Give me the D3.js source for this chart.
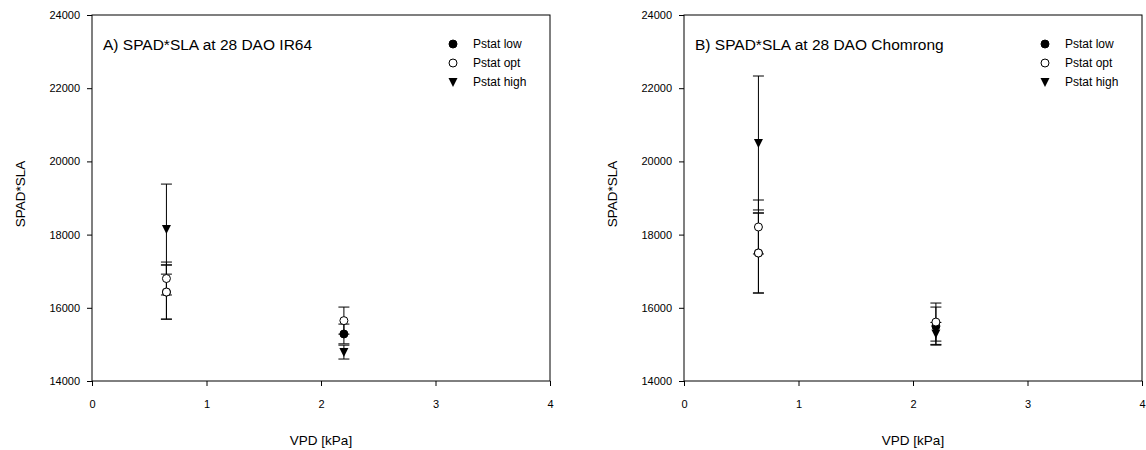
<!DOCTYPE html>
<html><head><meta charset="utf-8">
<script src="https://cdn.jsdelivr.net/npm/d3@7"></script>
<style>body{margin:0;background:#fff;} text{font-family:"Liberation Sans",Arial,sans-serif;}</style>
</head><body>
<svg id="c" width="1146" height="450"></svg>
<script>
// ---- data ----
const xTicks = [0, 1, 2, 3, 4];
const yTicks = [14000, 16000, 18000, 20000, 22000, 24000];
const seriesNames = ["Pstat low", "Pstat opt", "Pstat high"];
const panelTitles = ["A) SPAD*SLA at 28 DAO IR64", "B) SPAD*SLA at 28 DAO Chomrong"];
// IR64
const irLowX = [0.65, 2.2], irLowY = [16430, 15285], irLowE = [740, 270];
const irOptX = [0.65, 0.65, 2.2], irOptY = [16800, 16430, 15650], irOptE = [450, 740, 370];
const irHighX = [0.65, 2.2], irHighY = [18150, 14790], irHighE = [1230, 190];
// Chomrong
const chLowX = [0.65, 2.2], chLowY = [17497, 15500], chLowE = [1093, 520];
const chOptX = [0.65, 0.65, 2.2], chOptY = [18208, 17497, 15610], chOptE = [737, 1093, 520];
const chHighX = [0.65, 2.2], chHighY = [20503, 15300], chHighE = [1830, 300];

const panels = [
  {left: 92, title: panelTitles[0], series: [
    {x: irLowX, y: irLowY, e: irLowE, sym: "filled"},
    {x: irOptX, y: irOptY, e: irOptE, sym: "open"},
    {x: irHighX, y: irHighY, e: irHighE, sym: "tri"}]},
  {left: 684, title: panelTitles[1], series: [
    {x: chLowX, y: chLowY, e: chLowE, sym: "filled"},
    {x: chOptX, y: chOptY, e: chOptE, sym: "open"},
    {x: chHighX, y: chHighY, e: chHighE, sym: "tri"}]}
];

const svg = d3.select("#c");
const W = 458, plotTop = 15, plotBottom = 381;

function drawSym(g, sym, cx, cy) {
  if (sym === "tri") {
    g.append("path").attr("d", `M${cx-4.5},${cy-4}L${cx+4.5},${cy-4}L${cx},${cy+5}Z`).attr("fill", "#000");
  } else {
    g.append("circle").attr("cx", cx).attr("cy", cy).attr("r", 4)
      .attr("fill", sym === "filled" ? "#000" : "#fff").attr("stroke", "#000").attr("stroke-width", 1);
  }
}

panels.forEach(p => {
  const x = d3.scaleLinear().domain([0, 4]).range([p.left, p.left + W]);
  const y = d3.scaleLinear().domain([14000, 24000]).range([plotBottom, plotTop]);
  const g = svg.append("g");
  g.append("rect").attr("x", p.left).attr("y", plotTop).attr("width", W).attr("height", plotBottom - plotTop)
    .attr("fill", "none").attr("stroke", "#000").attr("stroke-width", 1);
  const ya = g.append("g").attr("transform", `translate(${p.left},0)`)
    .call(d3.axisLeft(y).tickValues(yTicks).tickSize(5).tickPadding(7).tickFormat(d3.format("d")));
  const xa = g.append("g").attr("transform", `translate(0,${plotBottom})`)
    .call(d3.axisBottom(x).tickValues(xTicks).tickSize(5).tickPadding(14).tickFormat(d3.format("d")));
  [ya, xa].forEach(a => {
    a.select(".domain").remove();
    a.selectAll("text").attr("font-size", 11).attr("fill", "#000").style("font-family", "Liberation Sans, Arial, sans-serif");
    a.selectAll("line").attr("stroke", "#000");
  });
  g.append("text").attr("x", p.left + W / 2).attr("y", 445).attr("text-anchor", "middle")
    .attr("font-size", 13.5).text("VPD [kPa]");
  g.append("text").attr("transform", `translate(${p.left - 67},${(plotTop + plotBottom) / 2 - 4}) rotate(-90)`)
    .attr("text-anchor", "middle").attr("font-size", 13.5).text("SPAD*SLA");
  g.append("text").attr("x", p.left + 11).attr("y", 50).attr("font-size", 15.5).text(p.title);
  p.series.forEach(s => {
    s.x.forEach((vx, i) => {
      const cx = x(vx), y0 = y(s.y[i] - s.e[i]), y1 = y(s.y[i] + s.e[i]);
      g.append("line").attr("x1", cx).attr("x2", cx).attr("y1", y0).attr("y2", y1).attr("stroke", "#000");
      [y0, y1].forEach(yy => g.append("line").attr("x1", cx - 5.5).attr("x2", cx + 5.5)
        .attr("y1", yy).attr("y2", yy).attr("stroke", "#000"));
    });
  });
  p.series.forEach(s => {
    s.x.forEach((vx, i) => drawSym(g, s.sym, x(vx), y(s.y[i])));
  });
  const lx = p.left + 361;
  seriesNames.forEach((n, i) => {
    const ly = 44 + i * 19;
    drawSym(g, p.series[i].sym, lx, ly);
    g.append("text").attr("x", lx + 20).attr("y", ly + 4).attr("font-size", 12).text(n);
  });
});
</script>
</body></html>
